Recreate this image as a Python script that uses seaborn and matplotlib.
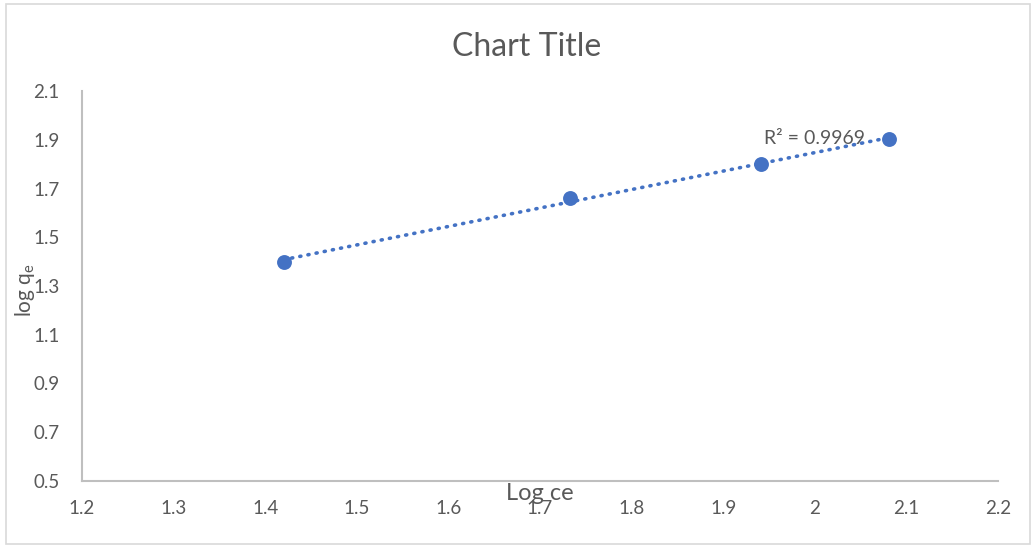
import numpy as np
import pandas as pd
import matplotlib
matplotlib.use("Agg")
import matplotlib.pyplot as plt
import seaborn as sns
from matplotlib.patches import Rectangle

log_ce = [1.42, 1.733, 1.941, 2.081]
log_qe = [1.40, 1.661, 1.80, 1.903]
x_ticks = [1.2, 1.3, 1.4, 1.5, 1.6, 1.7, 1.8, 1.9, 2.0, 2.1, 2.2]
x_tick_labels = ["1.2", "1.3", "1.4", "1.5", "1.6", "1.7", "1.8", "1.9", "2", "2.1", "2.2"]
y_ticks = [0.5, 0.7, 0.9, 1.1, 1.3, 1.5, 1.7, 1.9, 2.1]
y_tick_labels = ["0.5", "0.7", "0.9", "1.1", "1.3", "1.5", "1.7", "1.9", "2.1"]
r2_label = "R² = 0.9969"

df = pd.DataFrame({"log_ce": log_ce, "log_qe": log_qe})

sns.set_style("white")
plt.rcParams["font.family"] = ["Lato", "DejaVu Sans"]

blue = "#4472C4"
grey = "#595959"

fig = plt.figure(figsize=(10.36, 5.46), dpi=100)
ax = fig.add_axes([82 / 1036, 1 - 481 / 546, (998 - 82) / 1036, (481 - 91) / 546])

sns.regplot(data=df, x="log_ce", y="log_qe", scatter=False, ci=None, ax=ax,
            line_kws=dict(color=blue, lw=2.6, linestyle=(0, (0.3, 2.0)),
                          dash_capstyle="round"))
sns.scatterplot(data=df, x="log_ce", y="log_qe", ax=ax, s=115, color=blue,
                edgecolor=blue, linewidth=0, zorder=3)

ax.set_xlim(1.2, 2.2)
ax.set_ylim(0.5, 2.1)
ax.set_xticks(x_ticks)
ax.set_xticklabels(x_tick_labels)
ax.set_yticks(y_ticks)
ax.set_yticklabels(y_tick_labels)
ax.tick_params(axis="both", length=0, labelsize=13.5, colors=grey)
ax.tick_params(axis="x", pad=14)
ax.tick_params(axis="y", pad=16)

for side in ["top", "right"]:
    ax.spines[side].set_visible(False)
for side in ["left", "bottom"]:
    ax.spines[side].set_color("#bfbfbf")
    ax.spines[side].set_linewidth(1.5)

ax.set_xlabel("")
ax.set_ylabel("")
fig.text(540 / 1036, 1 - 494 / 546, "Log ce", ha="center", va="center",
         fontsize=17, color=grey)
fig.text(25 / 1036, 1 - 290 / 546, r"log q$_\mathregular{e}$", ha="center", va="center",
         rotation=90, fontsize=15, color=grey)
fig.text(527 / 1036, 1 - 47 / 546, "Chart Title", ha="center", va="center",
         fontsize=23, color=grey)

ax.text(814 / 1036, 1 - 138 / 546, r2_label, transform=fig.transFigure,
        ha="center", va="center", fontsize=14, color=grey)

fig.patches.append(Rectangle((6 / 1036, 2 / 546), 1024 / 1036, 540 / 546,
                             transform=fig.transFigure, fill=False,
                             edgecolor="#d9d9d9", lw=1.2))

fig.savefig("out.png", dpi=100)
